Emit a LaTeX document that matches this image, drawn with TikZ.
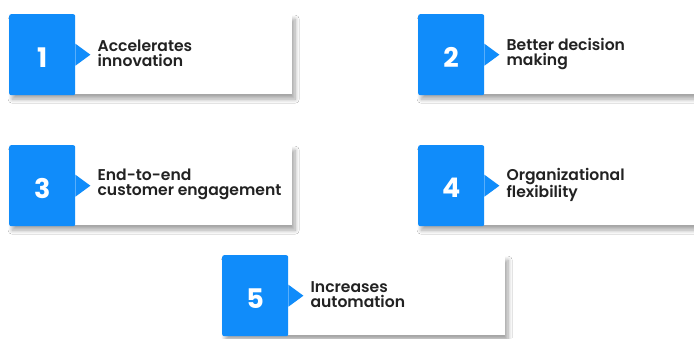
\documentclass[tikz,border=0pt]{standalone}
\usepackage{fontspec}
\setmainfont{Poppins}[BoldFont={Poppins SemiBold}]
\newfontfamily\numfont{Poppins Bold}
\usetikzlibrary{shadows.blur}
\definecolor{cardblue}{RGB}{16,140,250}
\definecolor{labeltext}{RGB}{34,34,34}
\tikzset{
  card/.style={fill=white, draw=none, anchor=north west, inner sep=0pt,
    blur shadow={shadow xshift=3pt, shadow yshift=-5pt, shadow blur steps=10,
      shadow blur radius=4pt, shadow opacity=35}},
  badge/.style={fill=cardblue, draw=none, anchor=north west, inner sep=0pt,
    rounded corners=2pt, minimum width=66pt, minimum height=81pt},
  numlabel/.style={text=white, inner sep=0pt, font=\fontsize{27}{27}\selectfont\numfont},
  caption/.style={text=labeltext, anchor=west, align=left, inner sep=0pt,
    font=\fontsize{15.6}{15}\selectfont\bfseries},
}
% #1 name, #2 x, #3 y, #4 card width, #5 number, #6 caption
\newcommand\benefitcard[6]{%
  \node[card, minimum width=#4pt, minimum height=80pt] (#1card) at (#2,#3) {};
  \node[badge] (#1badge) at (#2,#3) {};
  \fill[cardblue] ([yshift=11pt]#1badge.east) -- ([xshift=15pt]#1badge.east)
    -- ([yshift=-11pt]#1badge.east) -- cycle;
  \node[numlabel] (#1num) at ([yshift=-2.5pt]#1badge.center) {#5};
  \node[caption] (#1text) at ([xshift=22pt,yshift=1pt]#1badge.east) {#6};
}
\begin{document}
\begin{tikzpicture}[x=1pt, y=-1pt]
  \useasboundingbox[fill=white] (0,0) rectangle (694,338);
  \benefitcard{a}{9}{14}{283}{1}{Accelerates\\innovation}
  \benefitcard{b}{418}{14}{290}{2}{Better decision\\making}
  \benefitcard{c}{9}{145}{283}{3}{End-to-end\\customer engagement}
  \benefitcard{d}{418}{145}{290}{4}{Organizational\\flexibility}
  \benefitcard{e}{222}{255}{283}{5}{Increases\\automation}
\end{tikzpicture}
\end{document}
